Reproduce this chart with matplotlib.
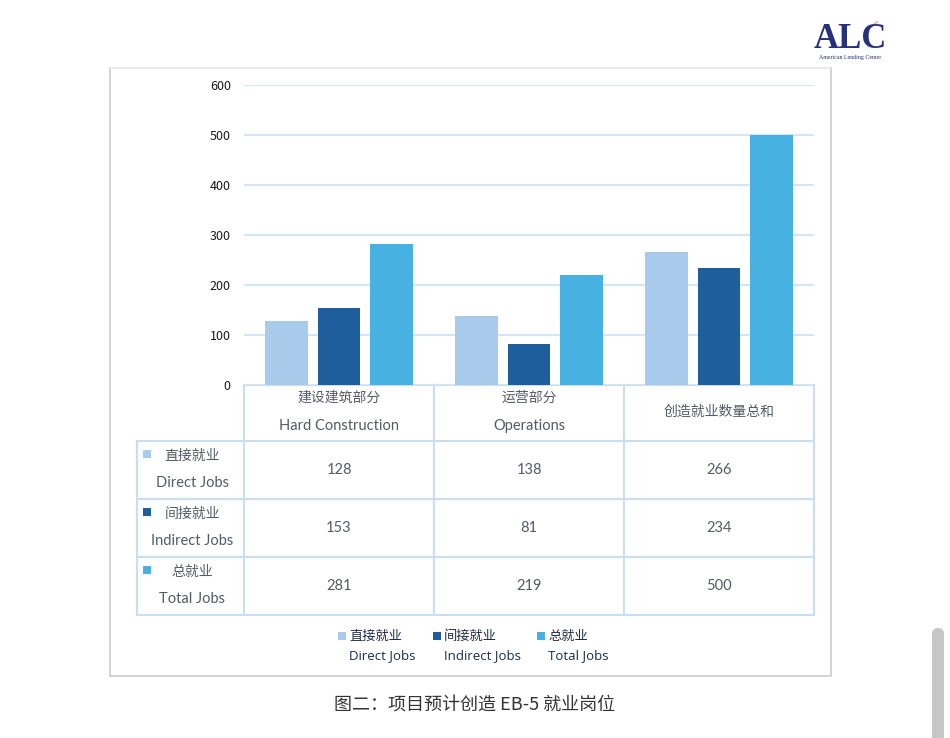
import numpy as np
import matplotlib
matplotlib.use("Agg")
import matplotlib.pyplot as plt
from matplotlib.patches import Rectangle, FancyBboxPatch

plt.rcParams['font.family'] = ['Noto Sans CJK SC', 'DejaVu Sans']

# --- data ---
categories_cn = ["建设建筑部分", "运营部分", "创造就业数量总和"]
categories_en = ["Hard Construction", "Operations", ""]
series_cn = ["直接就业", "间接就业", "总就业"]
series_en = ["Direct Jobs", "Indirect Jobs", "Total Jobs"]
direct_jobs = [128, 138, 266]
indirect_jobs = [153, 81, 234]
total_jobs = [281, 219, 500]
yticks = [0, 100, 200, 300, 400, 500, 600]

colors = ["#A8CBEC", "#1F5E9C", "#47B1E2"]
grid_c = "#D4E5F6"
table_c = "#C9DEF2"
W, H = 950, 738


def fx(px):
    return px / W


def fy(py):
    return 1 - py / H


fig = plt.figure(figsize=(9.5, 7.38), dpi=100)

# overlay in pixel coordinates for frame, table, legend
ov = fig.add_axes([0, 0, 1, 1])
ov.set_xlim(0, W)
ov.set_ylim(H, 0)
ov.axis("off")

# outer frame (top edge lighter)
ov.plot([110, 110, 831, 831], [68, 676, 676, 68], color="#CBCBCB", lw=1.2)
ov.plot([110, 831], [68, 68], color="#E6E6E6", lw=1.2)

# --- bars ---
x_left, x_right, y_top, y_bot = 244, 814, 84.7, 384.7
ax = fig.add_axes([fx(x_left), fy(y_bot), fx(x_right - x_left), (y_bot - y_top) / H])
x = np.arange(len(categories_cn))
bw = 0.226
off = 0.277
all_series = [direct_jobs, indirect_jobs, total_jobs]
for i, vals in enumerate(all_series):
    ax.bar(x + (i - 1) * off, vals, width=bw, color=colors[i], zorder=3)
ax.set_xlim(-0.5, 2.5)
ax.set_ylim(0, 600)
ax.set_yticks(yticks)
ax.set_xticks([])
ax.yaxis.grid(True, color=grid_c, lw=1.5, zorder=0)
for s in ax.spines.values():
    s.set_visible(False)
ax.tick_params(axis="y", length=0, pad=9.5, labelsize=9, labelcolor="#1a1a1a")
ax.patch.set_alpha(0)

# --- data table ---
col_edges = [244, 434, 624, 814]
row_edges = [441, 499, 557, 615]
lab_left = 137
ov.plot([244, 814], [384.7, 384.7], color=table_c, lw=1.5)
for r in row_edges:
    ov.plot([lab_left, 814], [r, r], color=table_c, lw=1.5)
for c in col_edges:
    ov.plot([c, c], [384.7, 615], color=table_c, lw=1.5)
ov.plot([lab_left, lab_left], [441, 615], color=table_c, lw=1.5)

tcol = "#555A63"
for j in range(3):
    cx = (col_edges[j] + col_edges[j + 1]) / 2
    if categories_en[j]:
        ov.text(cx, 398, categories_cn[j], ha="center", va="center", fontsize=10, color=tcol)
        ov.text(cx, 426, categories_en[j], ha="center", va="center", fontsize=10.5,
                color=tcol, family=["Lato", "DejaVu Sans"])
    else:
        ov.text(cx, 412, categories_cn[j], ha="center", va="center", fontsize=10, color=tcol)

for i, vals in enumerate(all_series):
    top = row_edges[i]
    bot = row_edges[i + 1]
    cy = (top + bot) / 2
    for j, v in enumerate(vals):
        cx = (col_edges[j] + col_edges[j + 1]) / 2
        ov.text(cx, cy, str(v), ha="center", va="center", fontsize=10.5, color=tcol,
                family=["Lato", "DejaVu Sans"])
    ov.add_patch(Rectangle((143, top + 9), 8, 8, color=colors[i], lw=0))
    ov.text(192, top + 15, series_cn[i], ha="center", va="center", fontsize=10, color=tcol)
    ov.text(192, top + 42, series_en[i], ha="center", va="center", fontsize=10.5, color=tcol,
            family=["Lato", "DejaVu Sans"])

# --- legend ---
leg_sq = [338, 433, 537]
leg_tx = [349, 444, 548]
lcol = "#1E2B47"
for i in range(3):
    ov.add_patch(Rectangle((leg_sq[i], 632), 8, 8, color=colors[i], lw=0))
    ov.text(leg_tx[i], 636, series_cn[i], ha="left", va="center", fontsize=9.5, color=lcol)
    ov.text(leg_tx[i], 656, series_en[i], ha="left", va="center", fontsize=9.5, color=lcol,
            family=["Open Sans", "DejaVu Sans"])

# --- caption ---
ov.text(475, 706, "图二：项目预计创造 EB-5 就业岗位", ha="center", va="center",
        fontsize=13, color="#333333", weight="medium")

# --- logo ---
ov.text(850, 39, "ALC", ha="center", va="center", fontsize=25, color="#27307A",
        family=["Liberation Serif", "DejaVu Serif"], weight="bold")
ov.text(850, 58, "American Lending Center", ha="center", va="center", fontsize=4.2,
        color="#27307A", family=["Liberation Serif", "DejaVu Serif"])
ov.plot([870, 877], [28, 22], color="#E8A98A", lw=1.2)

# scrollbar
ov.add_patch(FancyBboxPatch((932, 628), 12, 120, boxstyle="round,pad=0,rounding_size=6",
                            color="#C6C6C6", lw=0))

fig.savefig("out.png", dpi=100)
